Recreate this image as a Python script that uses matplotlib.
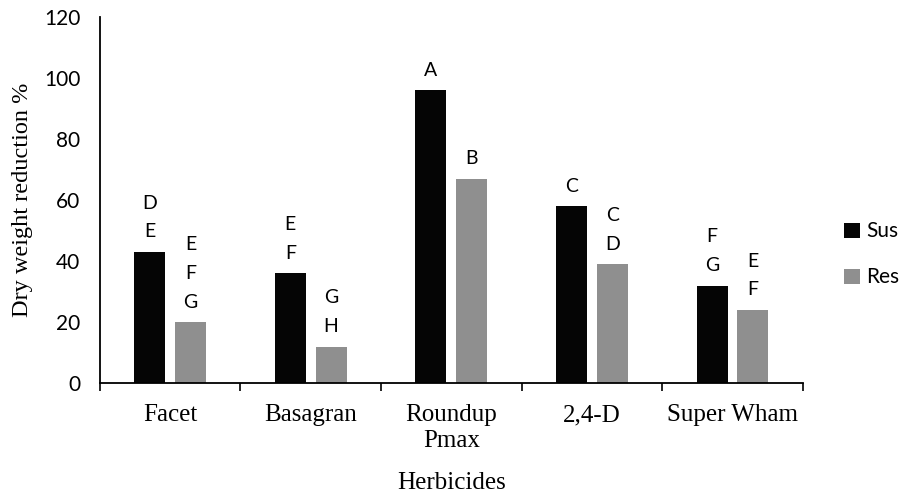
import matplotlib
matplotlib.use("Agg")
import matplotlib.pyplot as plt
import numpy as np

# =========================
# Data
# =========================
herbicides = ["Facet", "Basagran", "Roundup\nPmax", "2,4-D", "Super Wham"]
sus_values = [43, 36, 96, 58, 32]
res_values = [20, 12, 67, 39, 24]
sus_letters = ["D\nE", "E\nF", "A", "C", "F\nG"]
res_letters = ["E\nF\nG", "G\nH", "B", "C\nD", "E\nF"]

SUS_COLOR = "#050505"
RES_COLOR = "#8f8f8f"
SANS = "Lato"
SERIF = "Liberation Serif"

# =========================
# Figure
# =========================
fig = plt.figure(figsize=(8.99, 4.96), dpi=100)
ax = fig.add_axes([0.111, 0.227, 0.782, 0.739])

x = np.arange(len(herbicides))
width = 0.22
offset = 0.145

ax.bar(x - offset, sus_values, width, color=SUS_COLOR, label="Sus")
ax.bar(x + offset, res_values, width, color=RES_COLOR, label="Res")

# significance letters above bars
for xi, v, lab in zip(x, sus_values, sus_letters):
    ax.text(xi - offset, v + 3.8, lab, ha="center", va="bottom",
            fontsize=14, family=SANS, linespacing=1.85)
for xi, v, lab in zip(x, res_values, res_letters):
    ax.text(xi + offset, v + 3.8, lab, ha="center", va="bottom",
            fontsize=14, family=SANS, linespacing=1.85)

ax.set_xlim(-0.5, len(herbicides) - 0.5)
ax.set_ylim(0, 120)
ax.set_yticks(np.arange(0, 121, 20))
for lbl in ax.get_yticklabels():
    lbl.set_fontfamily(SANS)
    lbl.set_fontsize(15)
ax.tick_params(axis="y", length=0, pad=14)

ax.set_xticks(np.arange(-0.5, len(herbicides), 1.0))
ax.set_xticklabels([])
ax.set_xticks(x, minor=True)
ax.set_xticklabels(herbicides, minor=True, family=SERIF, fontsize=18,
                   linespacing=1.2, va="top")
ax.tick_params(axis="x", which="major", direction="out", length=6, width=1.2)
ax.tick_params(axis="x", which="minor", length=0, pad=15)

ax.spines["top"].set_visible(False)
ax.spines["right"].set_visible(False)
ax.spines["left"].set_linewidth(1.3)
ax.spines["bottom"].set_linewidth(1.3)

ax.set_ylabel("Dry weight reduction %", family=SERIF, fontsize=17.5, labelpad=8)
ax.set_xlabel("Herbicides", family=SERIF, fontsize=18, labelpad=15)

fig.legend(loc="center left", bbox_to_anchor=(0.918, 0.487), frameon=False,
           prop={"family": SANS, "size": 15}, handlelength=0.75,
           handleheight=0.75, handletextpad=0.3, labelspacing=1.25)

fig.savefig("out.png", dpi=100, facecolor="white")
